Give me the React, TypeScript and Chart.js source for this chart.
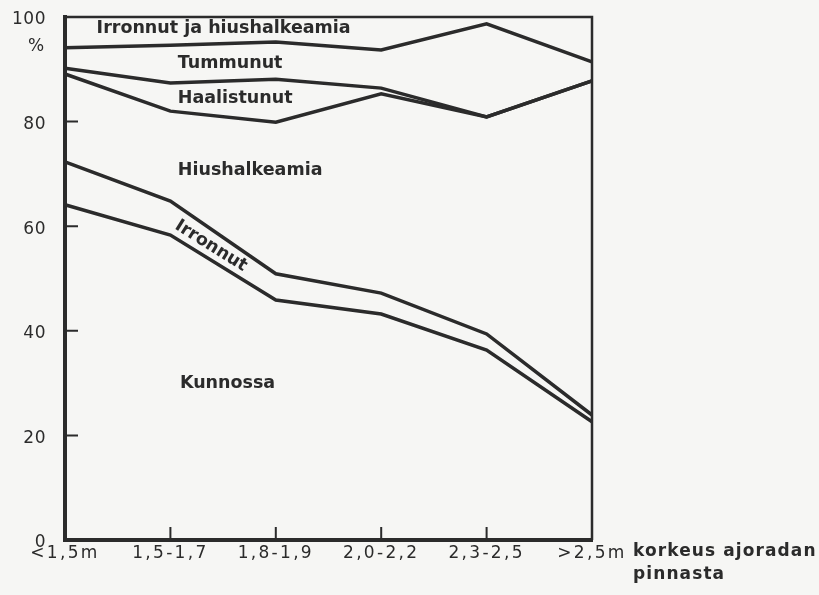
import React, { useEffect, useRef } from 'react';
import { Chart, registerables } from 'chart.js';

Chart.register(...registerables);

// ---- data ----
const categories = ['<1,5m', '1,5-1,7', '1,8-1,9', '2,0-2,2', '2,3-2,5', '>2,5m'];
const kunnossaTop = [64.1, 58.3, 45.9, 43.2, 36.3, 22.6];
const irronnutTop = [72.3, 64.8, 50.9, 47.2, 39.4, 23.9];
const hiushalkeamiaTop = [89.1, 82.0, 79.9, 85.3, 80.9, 87.8];
const haalistunutTop = [90.2, 87.4, 88.1, 86.4, 80.9, 87.8];
const tummunutTop = [94.1, 94.6, 95.2, 93.7, 98.7, 91.4];
const yTicks = [0, 20, 40, 60, 80, 100];

const regionLabels = ['Irronnut ja hiushalkeamia', 'Tummunut', 'Haalistunut', 'Hiushalkeamia', 'Irronnut', 'Kunnossa'];
const regionLabelX = [0.3, 1.07, 1.07, 1.07, 1.385, 1.09];
const regionLabelY = [97.9, 91.2, 84.5, 70.6, 56.2, 30.0];
const regionLabelAngle = [0, 0, 0, 0, 32, 0];
const regionLabelAlign = ['left', 'left', 'left', 'left', 'center', 'left'];
const yUnit = '%';
const yUnitValue = 94.3;
const xTitle = ['korkeus ajoradan', 'pinnasta'];

const INK = '#2b2b2b';
const BG = '#f6f6f4';
const FONT = '"DejaVu Sans", sans-serif';

const decorPlugin = {
  id: 'decor',
  beforeDraw(chart: any) {
    const { ctx } = chart;
    ctx.save();
    ctx.fillStyle = BG;
    ctx.fillRect(0, 0, chart.width, chart.height);
    ctx.restore();
    ctx.letterSpacing = '0.5px';
  },
  beforeDatasetsDraw(chart: any) {
    chart.ctx.letterSpacing = '2.3px';
  },
  afterDraw(chart: any) {
    const { ctx, chartArea } = chart;
    const xs = chart.scales.x;
    const ys = chart.scales.y;
    ctx.save();
    ctx.strokeStyle = INK;
    ctx.lineCap = 'butt';
    // top and right frame
    ctx.lineWidth = 2.5;
    const yTop = ys.getPixelForValue(yTicks[yTicks.length - 1]);
    const xRight = xs.getPixelForValue(categories.length - 1);
    ctx.beginPath();
    ctx.moveTo(chartArea.left, yTop);
    ctx.lineTo(xRight, yTop);
    ctx.lineTo(xRight, chartArea.bottom);
    ctx.stroke();
    // inward tick marks
    ctx.lineWidth = 2;
    ctx.beginPath();
    for (let i = 1; i < yTicks.length - 1; i++) {
      const y = ys.getPixelForValue(yTicks[i]);
      ctx.moveTo(chartArea.left, y);
      ctx.lineTo(chartArea.left + 13, y);
    }
    for (let i = 1; i < categories.length - 1; i++) {
      const x = xs.getPixelForValue(i);
      ctx.moveTo(x, chartArea.bottom);
      ctx.lineTo(x, chartArea.bottom - 13);
    }
    ctx.stroke();

    // region labels
    ctx.fillStyle = INK;
    ctx.textBaseline = 'middle';
    ctx.font = `bold 17.5px ${FONT}`;
    ctx.letterSpacing = '0px';
    regionLabels.forEach((t, i) => {
      const x = xs.getPixelForValue(regionLabelX[i]);
      const y = ys.getPixelForValue(regionLabelY[i]);
      ctx.save();
      ctx.translate(x, y);
      ctx.rotate((regionLabelAngle[i] * Math.PI) / 180);
      ctx.textAlign = regionLabelAlign[i];
      ctx.fillText(t, 0, 0);
      ctx.restore();
    });

    // unit label
    ctx.font = `17px ${FONT}`;
    ctx.letterSpacing = '0px';
    ctx.textAlign = 'center';
    ctx.fillText(yUnit, chartArea.left - 29, ys.getPixelForValue(yUnitValue));

    // x title
    ctx.font = `bold 17px ${FONT}`;
    ctx.letterSpacing = '1.1px';
    ctx.textAlign = 'left';
    ctx.fillText(xTitle[0], xRight + 41, chartArea.bottom + 12);
    ctx.fillText(xTitle[1], xRight + 41, chartArea.bottom + 35);
    ctx.restore();
  },
};

const lineDs = (label: string, data: number[]) => ({
  label,
  data,
  borderColor: INK,
  borderWidth: 3.5,
  pointRadius: 0,
  tension: 0,
  fill: false,
  borderJoinStyle: 'miter' as const,
});

export default function App() {
  const ref = useRef<HTMLCanvasElement>(null);
  useEffect(() => {
    if (!ref.current) return;
    const chart = new Chart(ref.current, {
      type: 'line',
      data: {
        labels: categories,
        datasets: [
          lineDs('Kunnossa', kunnossaTop),
          lineDs('Irronnut', irronnutTop),
          lineDs('Hiushalkeamia', hiushalkeamiaTop),
          lineDs('Haalistunut', haalistunutTop),
          lineDs('Tummunut', tummunutTop),
        ],
      },
      options: {
        animation: false,
        responsive: false,
        events: [],
        layout: { padding: { left: 0, right: 227, top: 17, bottom: 0 } },
        plugins: { legend: { display: false }, tooltip: { enabled: false } },
        scales: {
          x: {
            type: 'category',
            offset: false,
            grid: { display: false, drawTicks: false },
            border: { display: true, color: INK, width: 4 },
            ticks: {
              z: 1,
              color: INK,
              padding: 3,
              maxRotation: 0,
              autoSkip: false,
              font: { family: FONT, size: 17 },
            },
            afterFit: (s: any) => {
              s.height = 55;
            },
          },
          y: {
            type: 'linear',
            min: 0,
            max: 100,
            grid: { display: false, drawTicks: true, tickLength: 15 },
            border: { display: true, color: INK, width: 4 },
            afterBuildTicks: (s: any) => {
              s.ticks = yTicks.map((v) => ({ value: v }));
            },
            ticks: {
              color: INK,
              padding: 4,
              labelOffset: 3,
              font: { family: FONT, size: 17 },
            },
            afterFit: (s: any) => {
              s.width = 65;
            },
          },
        },
      },
      plugins: [decorPlugin],
    });
    return () => chart.destroy();
  }, []);
  return (
    <div style={{ position: 'absolute', left: 0, top: 0, width: 819, height: 595, background: BG }}>
      <canvas ref={ref} width={819} height={595} />
    </div>
  );
}
